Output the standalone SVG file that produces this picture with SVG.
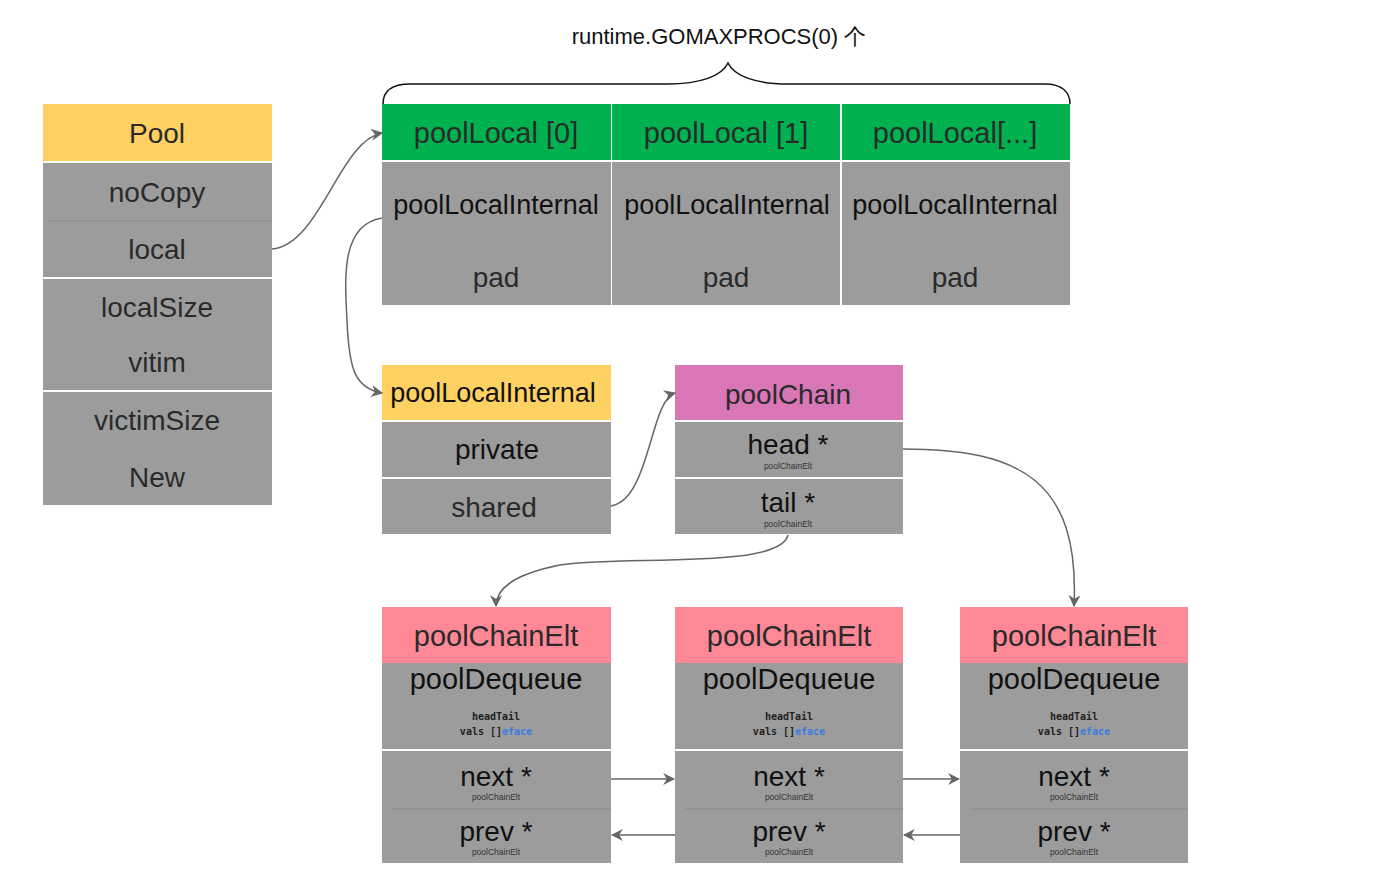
<svg xmlns="http://www.w3.org/2000/svg" width="1394" height="884" viewBox="0 0 1394 884">
<defs>
<style>
.t{font-family:"Liberation Sans",Arial,sans-serif;text-anchor:middle;fill:#2a2a2a}
.k{fill:#111}
.g{fill:#9c9c9c}
.sep2{stroke:#8a8a8a;stroke-width:1}
.big{font-size:28px}
.hd{font-size:29px}
.mid{font-size:27px}
.sm{font-size:8.5px;fill:#333}
.mono{font-family:"DejaVu Sans Mono","Liberation Mono",monospace;font-size:10px;font-weight:bold;text-anchor:middle;fill:#222}
.c{fill:none;stroke:#666;stroke-width:1.5}
</style>
<marker id="ah" viewBox="0 0 10 10" refX="9" refY="5" markerWidth="8" markerHeight="8" orient="auto">
<path d="M0,0 L10,5 L0,10 L3,5 z" fill="#666"/>
</marker>
</defs>
<rect width="1394" height="884" fill="#ffffff"/>

<g id="title">
<text class="t k" x="719" y="44" font-size="22">runtime.GOMAXPROCS(0) 个</text>
<path d="M383,104 C383,90 392,84 410,84 L668,84 C700,84 722,76 728,63 C734,76 756,84 788,84 L1045,84 C1062,84 1070,92 1070,104" fill="none" stroke="#111" stroke-width="1.5"/>
</g>

<g id="pool">
<rect x="43" y="104" width="229" height="57" fill="#fed162"/>
<text class="t big" x="157" y="143">Pool</text>
<rect class="g" x="43" y="163" width="229" height="114"/>
<line class="sep2" x1="48" y1="221" x2="272" y2="221"/>
<text class="t big" x="157" y="202">noCopy</text>
<text class="t big" x="157" y="259">local</text>
<rect class="g" x="43" y="279" width="229" height="111"/>
<text class="t big" x="157" y="317">localSize</text>
<text class="t big" x="157" y="372">vitim</text>
<rect class="g" x="43" y="392" width="229" height="113"/>
<text class="t big" x="157" y="430">victimSize</text>
<text class="t big" x="157" y="487">New</text>
</g>

<g id="poolLocal0">
<rect x="382" y="104" width="229" height="56" fill="#00b14f"/>
<text class="t hd" x="496" y="143">poolLocal [0]</text>
<rect class="g" x="382" y="162" width="229" height="143"/>
<text class="t mid k" x="496" y="214">poolLocalInternal</text>
<text class="t big" x="496" y="287">pad</text>
</g>
<g id="poolLocal1">
<rect x="612" y="104" width="228" height="56" fill="#00b14f"/>
<text class="t hd" x="726" y="143">poolLocal [1]</text>
<rect class="g" x="612" y="162" width="228" height="143"/>
<text class="t mid k" x="727" y="214">poolLocalInternal</text>
<text class="t big" x="726" y="287">pad</text>
</g>
<g id="poolLocalN">
<rect x="842" y="104" width="228" height="56" fill="#00b14f"/>
<text class="t hd" x="955" y="143">poolLocal[...]</text>
<rect class="g" x="842" y="162" width="228" height="143"/>
<text class="t mid k" x="955" y="214">poolLocalInternal</text>
<text class="t big" x="955" y="287">pad</text>
</g>

<g id="poolLocalInternal">
<rect x="382" y="365" width="229" height="55" fill="#fed162"/>
<text class="t mid k" x="493" y="402">poolLocalInternal</text>
<rect class="g" x="382" y="422" width="229" height="55"/>
<text class="t big k" x="497" y="459">private</text>
<rect class="g" x="382" y="479" width="229" height="55"/>
<text class="t big" x="494" y="517">shared</text>
</g>

<g id="poolChain">
<rect x="675" y="365" width="228" height="55" fill="#d976b5"/>
<text class="t big" x="788" y="404">poolChain</text>
<rect class="g" x="675" y="422" width="228" height="55"/>
<text class="t big k" x="788" y="454">head *</text>
<text class="t sm" x="788" y="469">poolChainElt</text>
<rect class="g" x="675" y="479" width="228" height="55"/>
<text class="t big k" x="788" y="512">tail *</text>
<text class="t sm" x="788" y="527">poolChainElt</text>
</g>

<g id="elt1">
<rect x="382" y="607" width="229" height="56" fill="#ff8896"/>
<text class="t hd" x="496" y="646">poolChainElt</text>
<rect class="g" x="382" y="663" width="229" height="86"/>
<text class="t hd k" x="496" y="689">poolDequeue</text>
<text class="mono" x="496" y="720">headTail</text>
<text class="mono" x="496" y="735">vals []<tspan fill="#3b7de0">eface</tspan></text>
<rect class="g" x="382" y="751" width="229" height="112"/>
<line class="sep2" x1="392" y1="809" x2="611" y2="809"/>
<text class="t big k" x="496" y="786">next *</text>
<text class="t sm" x="496" y="800">poolChainElt</text>
<text class="t big k" x="496" y="841">prev *</text>
<text class="t sm" x="496" y="855">poolChainElt</text>
</g>
<g id="elt2">
<rect x="675" y="607" width="228" height="56" fill="#ff8896"/>
<text class="t hd" x="789" y="646">poolChainElt</text>
<rect class="g" x="675" y="663" width="228" height="86"/>
<text class="t hd k" x="789" y="689">poolDequeue</text>
<text class="mono" x="789" y="720">headTail</text>
<text class="mono" x="789" y="735">vals []<tspan fill="#3b7de0">eface</tspan></text>
<rect class="g" x="675" y="751" width="228" height="112"/>
<line class="sep2" x1="685" y1="809" x2="903" y2="809"/>
<text class="t big k" x="789" y="786">next *</text>
<text class="t sm" x="789" y="800">poolChainElt</text>
<text class="t big k" x="789" y="841">prev *</text>
<text class="t sm" x="789" y="855">poolChainElt</text>
</g>
<g id="elt3">
<rect x="960" y="607" width="228" height="56" fill="#ff8896"/>
<text class="t hd" x="1074" y="646">poolChainElt</text>
<rect class="g" x="960" y="663" width="228" height="86"/>
<text class="t hd k" x="1074" y="689">poolDequeue</text>
<text class="mono" x="1074" y="720">headTail</text>
<text class="mono" x="1074" y="735">vals []<tspan fill="#3b7de0">eface</tspan></text>
<rect class="g" x="960" y="751" width="228" height="112"/>
<line class="sep2" x1="970" y1="809" x2="1188" y2="809"/>
<text class="t big k" x="1074" y="786">next *</text>
<text class="t sm" x="1074" y="800">poolChainElt</text>
<text class="t big k" x="1074" y="841">prev *</text>
<text class="t sm" x="1074" y="855">poolChainElt</text>
</g>

<g id="connectors">
<path class="c" d="M272,249 C320,245 340,140 382,133" marker-end="url(#ah)"/>
<path class="c" d="M382,218 C340,225 345,280 347,320 C349,370 355,388 382,393" marker-end="url(#ah)"/>
<path class="c" d="M611,506 C650,500 650,400 675,393" marker-end="url(#ah)"/>
<path class="c" d="M903,449 C1020,449 1080,480 1074,606" marker-end="url(#ah)"/>
<path class="c" d="M788,535 C780,570 620,555 560,565 C510,575 496,590 496,606" marker-end="url(#ah)"/>
<path class="c" d="M611,779 L674,779" marker-end="url(#ah)"/>
<path class="c" d="M903,779 L959,779" marker-end="url(#ah)"/>
<path class="c" d="M675,835 L612,835" marker-end="url(#ah)"/>
<path class="c" d="M960,835 L904,835" marker-end="url(#ah)"/>
</g>
</svg>
